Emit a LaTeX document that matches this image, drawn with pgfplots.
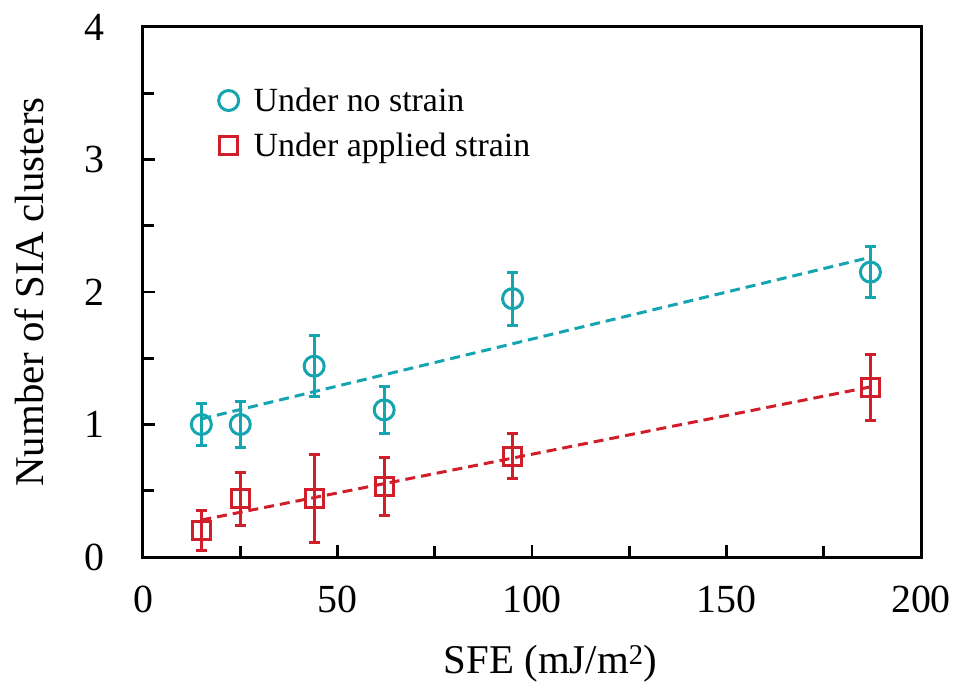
\documentclass[border=0pt]{standalone}
\usepackage{fontspec}
\setmainfont{Liberation Serif}
\usepackage{pgfplots}
\pgfplotsset{compat=1.18}

\definecolor{teal1}{RGB}{20,165,176}
\definecolor{red1}{RGB}{208,30,42}

\begin{document}
\begin{tikzpicture}
\useasboundingbox (-143bp,-128bp) rectangle (814bp,557bp);
\begin{axis}[
    at={(0,0)}, anchor=south west,
    scale only axis,
    width=778bp, height=530bp,
    xmin=0, xmax=200,
    ymin=0, ymax=4,
    xtick={0,50,100,150,200},
    ytick={0,1,2,3,4},
    minor x tick num=1,
    minor y tick num=1,
    tick pos=left,
    tick align=inside,
    major tick length=12bp,
    minor tick length=11bp,
    axis line style={black, line width=3bp},
    every tick/.style={black, line width=2.8bp},
    /pgf/number format/assume math mode=true,
    tick label style={font=\fontsize{40}{48}\selectfont},
    xticklabel style={yshift=-25bp},
    yticklabel style={xshift=-35bp},
    xlabel={SFE (mJ/m\textsuperscript{2})},
    ylabel={Number of SIA clusters},
    label style={font=\fontsize{41}{49}\selectfont},
    xlabel style={at={(axis description cs:0.524,-0.2189)}, anchor=base},
    ylabel style={at={(axis description cs:-0.1285,0.5)}, anchor=base, rotate=0},
    legend style={draw=none, fill=none, at={(axis description cs:0.097,0.889)}, anchor=north west,
        font=\fontsize{34}{40}\selectfont, row sep=16bp, column sep=13bp, inner sep=0pt},
    legend cell align=left,
    clip=false
]

\addplot[
    only marks, color=teal1,
    mark=o, mark size=10bp,
    mark options={fill=white, line width=3bp},
    error bars/.cd, y dir=both, y explicit,
    error bar style={line width=3bp, color=teal1},
    error mark options={rotate=90, mark size=5.5bp, line width=3bp, color=teal1}
] coordinates {
    (15,  1.00) +- (0, 0.16)
    (25,  1.00) +- (0, 0.17)
    (44,  1.44) +- (0, 0.23)
    (62,  1.11) +- (0, 0.18)
    (95,  1.95) +- (0, 0.20)
    (187, 2.15) +- (0, 0.19)
};
\addlegendentry{Under no strain}

\addplot[
    only marks, color=red1,
    mark=square, mark size=9bp,
    mark options={fill=white, line width=3bp},
    error bars/.cd, y dir=both, y explicit,
    error bar style={line width=3bp, color=red1},
    error mark options={rotate=90, mark size=5.5bp, line width=3bp, color=red1}
] coordinates {
    (15,  0.20) +- (0, 0.15)
    (25,  0.44) +- (0, 0.20)
    (44,  0.44) +- (0, 0.33)
    (62,  0.53) +- (0, 0.22)
    (95,  0.76) +- (0, 0.17)
    (187, 1.28) +- (0, 0.25)
};
\addlegendentry{Under applied strain}

% linear fits
\addplot[teal1, line width=3bp, dash pattern=on 10bp off 6bp, forget plot]
    coordinates {(15,1.042) (187,2.262)};
\addplot[red1, line width=3bp, dash pattern=on 10bp off 6bp, forget plot]
    coordinates {(15,0.279) (187,1.284)};

\end{axis}
\end{tikzpicture}
\end{document}
